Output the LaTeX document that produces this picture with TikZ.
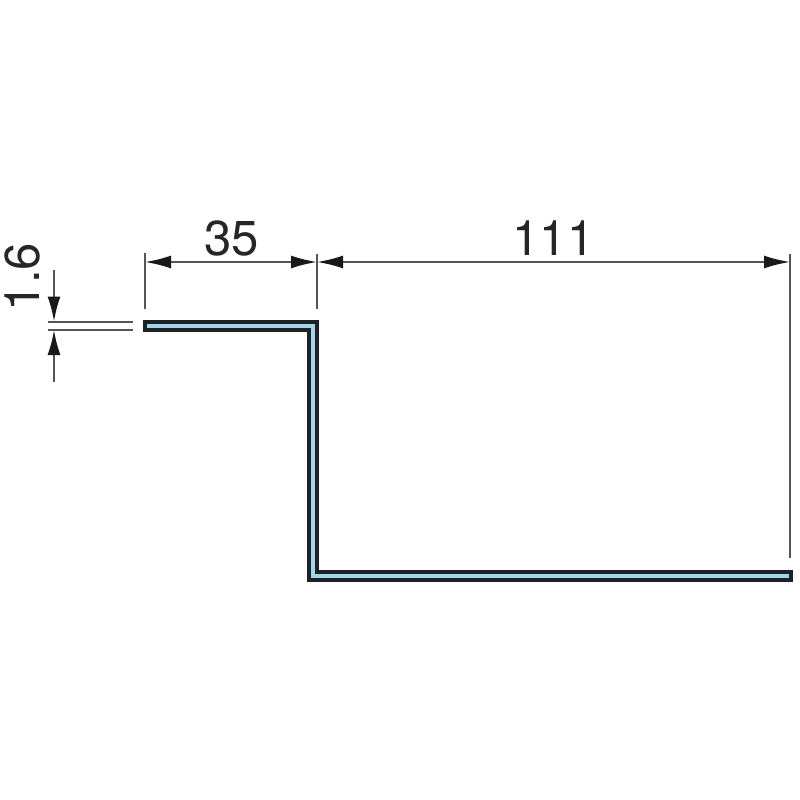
\documentclass[tikz,border=0pt]{standalone}
\usepackage{fontspec}
\setmainfont{TeX Gyre Heros}
\usetikzlibrary{arrows.meta}
\definecolor{profileblue}{HTML}{A3D5EC}
\definecolor{profileline}{HTML}{1C2226}
\definecolor{dimline}{HTML}{555555}
\tikzset{
  dimtext/.style={inner sep=0pt, text=black!85, font=\fontsize{49}{52}\selectfont},
  extline/.style={draw=dimline, line width=2pt},
  dimarrow/.style={draw=dimline, line width=2pt, {Latex[length=26pt,width=13pt,color=black!90]}-{Latex[length=26pt,width=13pt,color=black!90]}},
  thinarrow/.style={draw=dimline, line width=2pt, -{Latex[length=25pt,width=13pt,color=black!90]}},
}
\begin{document}
\begin{tikzpicture}[x=1pt, y=-1pt]
  \useasboundingbox (0,0) rectangle (800,800);

  % sheet profile
  \draw[fill=profileblue, draw=profileline, line width=4pt, miter limit=10]
    (145,322) -- (317,322) -- (317,571.5) -- (790.5,571.5) -- (790.5,579.5)
    -- (309,579.5) -- (309,330) -- (145,330) -- cycle;

  % dimension points
  \coordinate (left) at (145,262);
  \coordinate (mid) at (317,262);
  \coordinate (right) at (790,262);
  \coordinate (leftend) at (145,309);
  \coordinate (midend) at (317,309);
  \coordinate (rightend) at (790,558);
  \coordinate (lefttop) at (145,253);
  \coordinate (midtop) at (317,254);
  \coordinate (righttop) at (790,254);

  \draw[extline] (lefttop) -- (leftend);
  \draw[extline] (midtop) -- (midend);
  \draw[extline] (righttop) -- (rightend);
  \draw[dimarrow] (left) -- (mid);
  \draw[dimarrow] (mid) -- (right);

  % thickness
  \coordinate (thicktop) at (54,321.5);
  \coordinate (thickbot) at (54,330);
  \coordinate (thickstart) at (54,270);
  \coordinate (thickend) at (54,382);
  \coordinate (upperleft) at (48,321.5);
  \coordinate (upperright) at (133,321.5);
  \coordinate (lowerleft) at (48,330);
  \coordinate (lowerright) at (133,330);

  \draw[extline] (upperleft) -- (upperright);
  \draw[extline] (lowerleft) -- (lowerright);
  \draw[thinarrow] (thickstart) -- (thicktop);
  \draw[thinarrow] (thickend) -- (thickbot);

  \node[dimtext] (width) at (231.5,238) {35};
  \node[dimtext] (depth) at (553.5,238) {111};
  \node[dimtext, rotate=90] (thick) at (22,277) {1.6};
\end{tikzpicture}
\end{document}
